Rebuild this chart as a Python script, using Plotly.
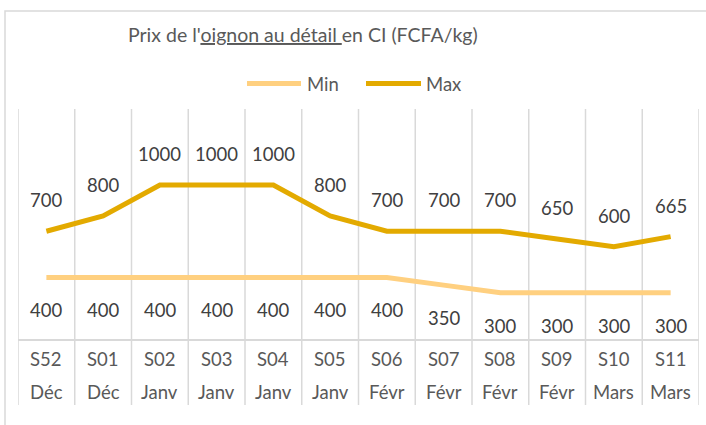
import plotly.graph_objects as go

# ---- data ----
weeks = ["S52", "S01", "S02", "S03", "S04", "S05", "S06", "S07", "S08", "S09", "S10", "S11"]
months = ["Déc", "Déc", "Janv", "Janv", "Janv", "Janv", "Févr", "Févr", "Févr", "Févr", "Mars", "Mars"]
min_vals = [400, 400, 400, 400, 400, 400, 400, 350, 300, 300, 300, 300]
max_vals = [700, 800, 1000, 1000, 1000, 800, 700, 700, 700, 650, 600, 665]
series_names = ["Min", "Max"]
title_html = "Prix de l'<u>oignon au détail </u>en CI (FCFA/kg)"

# ---- layout constants ----
W, H = 706, 425
L, R, T, B = 18, 7, 109, 86
PW, PH = W - L - R, H - T - B
FONT = "Lato"
C_MIN = "#FFD080"
C_MAX = "#E3AA00"
GRID = "#D9D9D9"
TXT = "#595959"
LBL = "#404040"
FS = 18.5


def px_x(px):
    return (px - L) / PW


def px_y(py):
    return (H - B - py) / PH


n = len(weeks)
xs = list(range(n))

fig = go.Figure()
fig.add_trace(go.Scatter(x=xs, y=min_vals, mode="lines", name=series_names[0],
                         line=dict(color=C_MIN, width=5), hoverinfo="skip"))
fig.add_trace(go.Scatter(x=xs, y=max_vals, mode="lines", name=series_names[1],
                         line=dict(color=C_MAX, width=5), hoverinfo="skip"))

shapes = []
# outer border
shapes.append(dict(type="rect", xref="paper", yref="paper",
                   x0=px_x(5), x1=px_x(W + 2), y0=px_y(H + 2), y1=px_y(11),
                   line=dict(color=GRID, width=1.5), fillcolor="rgba(0,0,0,0)", layer="below"))
# vertical category gridlines
for k in range(n + 1):
    shapes.append(dict(type="line", xref="x", yref="paper",
                       x0=k - 0.5, x1=k - 0.5, y0=px_y(405), y1=1,
                       line=dict(color=GRID, width=1.5), layer="below"))
# legend lines
shapes.append(dict(type="line", xref="paper", yref="paper",
                   x0=px_x(247), x1=px_x(301), y0=px_y(83.5), y1=px_y(83.5),
                   line=dict(color=C_MIN, width=5)))
shapes.append(dict(type="line", xref="paper", yref="paper",
                   x0=px_x(366), x1=px_x(421), y0=px_y(83.5), y1=px_y(83.5),
                   line=dict(color=C_MAX, width=5)))

ann = []
for i in range(n):
    ann.append(dict(x=i, y=max_vals[i], xref="x", yref="y", text=str(max_vals[i]),
                    showarrow=False, yshift=31, yanchor="middle",
                    font=dict(family=FONT, size=FS, color=LBL)))
    ann.append(dict(x=i, y=min_vals[i], xref="x", yref="y", text=str(min_vals[i]),
                    showarrow=False, yshift=-33, yanchor="middle",
                    font=dict(family=FONT, size=FS, color=LBL)))
    ann.append(dict(x=i, y=px_y(358.5), xref="x", yref="paper", text=weeks[i],
                    showarrow=False, yanchor="middle",
                    font=dict(family=FONT, size=FS, color=TXT)))
    ann.append(dict(x=i, y=px_y(392), xref="x", yref="paper", text=months[i],
                    showarrow=False, yanchor="middle",
                    font=dict(family=FONT, size=FS, color=TXT)))

ann.append(dict(x=px_x(303), y=px_y(34), xref="paper", yref="paper", text=title_html,
                showarrow=False, xanchor="center", yanchor="middle",
                font=dict(family=FONT, size=19.5, color=TXT)))
ann.append(dict(x=px_x(305), y=px_y(84), xref="paper", yref="paper", text=series_names[0],
                showarrow=False, xanchor="left", yanchor="middle",
                font=dict(family=FONT, size=FS, color=TXT)))
ann.append(dict(x=px_x(424), y=px_y(84), xref="paper", yref="paper", text=series_names[1],
                showarrow=False, xanchor="left", yanchor="middle",
                font=dict(family=FONT, size=FS, color=TXT)))

fig.update_layout(
    width=W, height=H,
    margin=dict(l=L, r=R, t=T, b=B, pad=0),
    paper_bgcolor="white", plot_bgcolor="white",
    showlegend=False,
    xaxis=dict(range=[-0.5, n - 0.5], showgrid=False, zeroline=False,
               showline=True, linecolor=GRID, linewidth=1.5,
               showticklabels=False, ticks="", fixedrange=True),
    yaxis=dict(range=[0, 1494], visible=False, fixedrange=True),
    shapes=shapes,
    annotations=ann,
    font=dict(family=FONT, color=TXT),
)

fig.write_html("out.html", config={"displayModeBar": False},
               post_script="document.body.style.margin='0';document.body.style.overflow='hidden';")
